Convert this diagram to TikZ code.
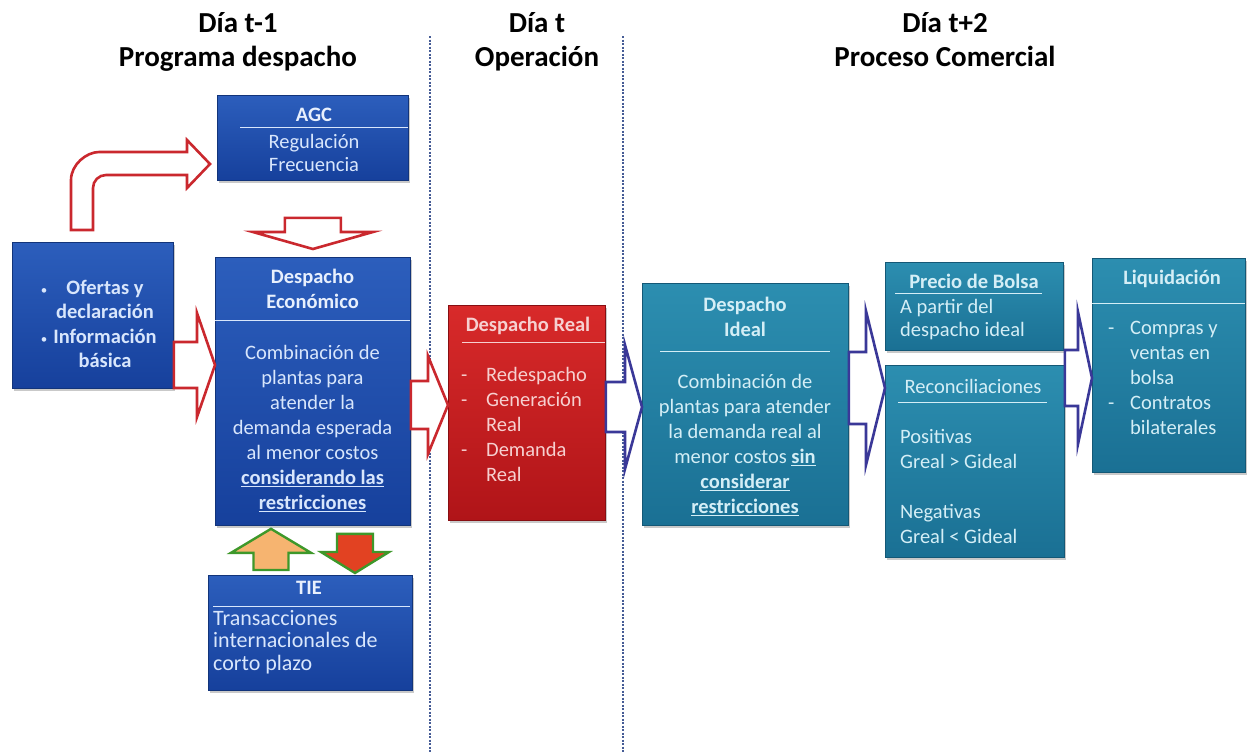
\documentclass[tikz,border=0pt]{standalone}
\usepackage{fontspec}
\setmainfont{Carlito}
\usetikzlibrary{calc,shadows}

% box fills (top / bottom / border)
\definecolor{blueT}{RGB}{44,94,188}
\definecolor{blueB}{RGB}{22,64,156}
\definecolor{blueD}{RGB}{18,52,122}
\definecolor{redT}{RGB}{216,42,42}
\definecolor{redB}{RGB}{176,20,24}
\definecolor{redD}{RGB}{135,14,18}
\definecolor{tealT}{RGB}{44,142,176}
\definecolor{tealB}{RGB}{26,112,148}
\definecolor{tealD}{RGB}{20,88,118}
% texts
\definecolor{txtblue}{RGB}{216,230,252}
\definecolor{txtred}{RGB}{246,208,208}
\definecolor{txtteal}{RGB}{212,238,246}
% arrows and dividers
\definecolor{arrred}{RGB}{202,40,46}
\definecolor{arrnavy}{RGB}{58,56,152}
\definecolor{arrgreen}{RGB}{62,152,42}
\definecolor{arrorange}{RGB}{246,180,112}
\definecolor{arrvermilion}{RGB}{226,66,34}
\definecolor{divider}{RGB}{70,92,150}

\newcommand\headf{\fontsize{29}{34}\selectfont\bfseries}
\newcommand\bodyf{\fontsize{20.5}{25}\selectfont}
\newcommand\tightf{\fontsize{20.5}{23}\selectfont}
\newcommand\bulletf{\fontsize{20.5}{24.5}\selectfont\bfseries}
\newcommand\dotf{\fontsize{13}{24.5}\selectfont}
\newcommand\tief{\fontsize{22}{22.5}\selectfont}

% horizontal block arrow: style, tail, tip, shaft half-width, head half-width, head length
\newcommand\harrow[6]{%
  \draw[#1] let \p1=#2, \p2=#3 in
    ({\x1},{\y2+#4}) -- ({\x2-#6},{\y2+#4}) -- ({\x2-#6},{\y2+#5}) -- ({\x2},{\y2})
    -- ({\x2-#6},{\y2-#5}) -- ({\x2-#6},{\y2-#4}) -- ({\x1},{\y2-#4}) -- cycle;}
% vertical block arrow: style, tail, tip, shaft half-width, head half-width,
% head length (positive for a downward arrow, negative for an upward one)
\newcommand\varrow[6]{%
  \draw[#1] let \p1=#2, \p2=#3 in
    ({\x2-#4},{\y1}) -- ({\x2-#4},{\y2+#6}) -- ({\x2-#5},{\y2+#6}) -- ({\x2},{\y2})
    -- ({\x2+#5},{\y2+#6}) -- ({\x2+#4},{\y2+#6}) -- ({\x2+#4},{\y1}) -- cycle;}

\tikzset{
  box/.style={anchor=north west, inner sep=0pt, line width=0.8pt,
    drop shadow={shadow xshift=2pt, shadow yshift=-3pt, opacity=0.35, fill=black!60}},
  bluebox/.style={box, draw=blueD, top color=blueT, bottom color=blueB},
  redbox/.style={box, draw=redD, top color=redT, bottom color=redB},
  tealbox/.style={box, draw=tealD, top color=tealT, bottom color=tealB},
  txt/.style={inner sep=0pt, anchor=north, align=center, font=\bodyf},
  ttl/.style={txt, font=\bodyf\bfseries},
  lefttxt/.style={inner sep=0pt, anchor=north west, align=left, font=\bodyf},
  rulebar/.style={line width=1pt},
  header/.style={inner sep=0pt, anchor=base, font=\headf},
  redarrow/.style={draw=arrred, line width=2.6pt, fill=white, line join=miter},
  navyarrow/.style={draw=arrnavy, line width=2.6pt, fill=white, line join=miter},
  tiein/.style={draw=arrgreen, line width=2.4pt, fill=arrorange, line join=miter},
  tieout/.style={draw=arrgreen, line width=2.4pt, fill=arrvermilion, line join=miter},
  dividerline/.style={draw=divider, line width=1.2pt, dash pattern=on 2pt off 1.5pt},
}

\begin{document}
\begin{tikzpicture}[x=1pt, y=-1pt]
\useasboundingbox[fill=white] (0,0) rectangle (1249,753);

% column headers
\node[header] (h1a) at (238,32) {Día t-1};
\node[header] (h1b) at (238,66) {Programa despacho};
\node[header] (h2a) at (537,32) {Día t};
\node[header] (h2b) at (537,66) {Operación};
\node[header] (h3a) at (945,32) {Día t+2};
\node[header] (h3b) at (945,66) {Proceso Comercial};

% day dividers
\coordinate (d1top) at (430,36);
\coordinate (d1bot) at (430,753);
\coordinate (d2top) at (623,36);
\coordinate (d2bot) at (623,753);
\draw[dividerline] (d1top) -- (d1bot);
\draw[dividerline] (d2top) -- (d2bot);

% ---------------- day t-1 ----------------
\node[bluebox, minimum width=191pt, minimum height=85pt] (agc) at (217,95) {};
\node[ttl, text=txtblue!60!white] (agc-h) at (314,103.5) {\strut AGC};
\draw[rulebar, draw=txtblue] (agc.north west) ++(23,32) -- ++(168,0);
\node[txt, font=\tightf, text=txtblue] (agc-b) at (314,132.3) {\strut Regulación\\Frecuencia};

\node[bluebox, minimum width=161pt, minimum height=146pt] (lb) at (12,242) {};
\node[txt, font=\bulletf, text=txtblue] (lb-t) at (105,277) {\strut Ofertas y\\declaración\\Información\\básica};
\node[txt, font=\dotf, text=txtblue] (lb-p1) at (44,277) {\strut\textbullet};
\node[txt, font=\dotf, text=txtblue] (lb-p2) at (44,326) {\strut\textbullet};

\node[bluebox, minimum width=195pt, minimum height=268pt] (de) at (215,257) {};
\node[ttl, text=txtblue!60!white] (de-h) at (312.5,265.5) {\strut Despacho\\Económico};
\draw[rulebar, draw=txtblue] (de.north west) ++(0,63) -- ++(195,0);
\node[txt, text=txtblue] (de-b) at (312.5,341.5)
  {\strut Combinación de\\plantas para\\atender la\\demanda esperada\\al menor costos\\
   \underline{\textbf{considerando las}}\\\underline{\textbf{restricciones}}};

\node[bluebox, minimum width=204pt, minimum height=115pt] (tie) at (208,575) {};
\node[ttl, text=txtblue!60!white] (tie-h) at (309,576.5) {\strut TIE};
\draw[rulebar, draw=txtblue] (tie.north west) ++(5,31) -- ++(197,0);
\node[lefttxt, font=\tief, text=txtblue] (tie-b) at (213,609.1)
  {\strut Transacciones\\internacionales de\\corto plazo};

% ---------------- day t ----------------
\node[redbox, minimum width=157pt, minimum height=215pt] (dr) at (448,305) {};
\node[ttl, text=txtred] (dr-h) at (528,313.5) {\strut Despacho Real};
\draw[rulebar, draw=txtred] (dr.north west) ++(14,37) -- ++(143,0);
\node[lefttxt, text=txtred] (dr-b) at (461,363.5)
  {\begin{tabular}{@{}l@{\hspace{18.7pt}}l@{}}
   - & Redespacho\\ - & Generación\\ & Real\\ - & Demanda\\ & Real
   \end{tabular}};

% ---------------- day t+2 ----------------
\node[tealbox, minimum width=206pt, minimum height=242pt] (di) at (642,283) {};
\node[ttl, text=txtteal] (di-h) at (745,293.5) {\strut Despacho\\Ideal};
\draw[rulebar, draw=txtteal] (di.north west) ++(18,68) -- ++(170,0);
\node[txt, text=txtteal] (di-b) at (745,370.5)
  {\strut Combinación de\\plantas para atender\\la demanda real al\\
   menor costos \underline{\textbf{sin}}\\\underline{\textbf{considerar}}\\
   \underline{\textbf{restricciones}}};

\node[tealbox, minimum width=178pt, minimum height=88pt] (pb) at (885,262) {};
\node[ttl, text=txtteal] (pb-h) at (974,270.5) {\strut Precio de Bolsa};
\draw[rulebar, draw=txtteal] (pb.north west) ++(10,31) -- ++(147,0);
\node[lefttxt, font=\tightf, text=txtteal] (pb-b) at (900,297.3)
  {\strut A partir del\\despacho ideal};

\node[tealbox, minimum width=179pt, minimum height=192pt] (rc) at (885,365) {};
\node[txt, text=txtteal] (rc-h) at (973,375.5) {\strut Reconciliaciones};
\draw[rulebar, draw=txtteal] (rc.north west) ++(13,37) -- ++(149,0);
\node[lefttxt, text=txtteal] (rc-b) at (900,425.5)
  {\strut Positivas\\Greal > Gideal\\\strut\\Negativas\\Greal < Gideal};

\node[tealbox, minimum width=153pt, minimum height=214pt] (lq) at (1092,258) {};
\node[ttl, text=txtteal] (lq-h) at (1172,266.5) {\strut Liquidación};
\draw[rulebar, draw=txtteal] (lq.north west) ++(0,45) -- ++(153,0);
\node[lefttxt, text=txtteal] (lq-b) at (1108,316.5)
  {\begin{tabular}{@{}l@{\hspace{15.7pt}}l@{}}
   - & Compras y\\ & ventas en\\ & bolsa\\ - & Contratos\\ & bilaterales
   \end{tabular}};

% ---------------- block arrows ----------------
% bent arrow from the input data up to AGC
\draw[redarrow] (93,230) -- (71,230) -- (71,180)
  .. controls (71,164.5) and (86.5,152) .. (99,152)
  -- (187,152) -- (187,140) -- (210,164) -- (187,188) -- (187,175) -- (106,175)
  .. controls (98.8,175) and (93,180.8) .. (93,188) -- cycle;

\varrow{redarrow}{($(agc.south)+(0,37)$)}{($(de.north)+(0,-8)$)}{28}{60}{17}
\harrow{redarrow}{(lb.east|-0,365)}{(de.west|-0,365)}{23}{52}{18}
\harrow{redarrow}{(de.east|-0,405)}{(dr.west|-0,405)}{24}{49}{20}
\harrow{navyarrow}{(dr.east|-0,407)}{(di.west|-0,407)}{25}{62}{17}
\harrow{navyarrow}{(di.east|-0,388)}{(rc.west|-0,388)}{36}{77}{19}
\harrow{navyarrow}{(rc.east|-0,378)}{(lq.west|-0,378)}{28}{66}{14}

% exchanges with TIE
\varrow{tiein}{($(tie.north west)+(63,-5)$)}{($(de.south west)+(56,3)$)}{17.5}{40}{(-24)}
\varrow{tieout}{($(de.south west)+(140,8)$)}{($(tie.north west)+(147,-2)$)}{18}{34}{21}

\end{tikzpicture}
\end{document}
